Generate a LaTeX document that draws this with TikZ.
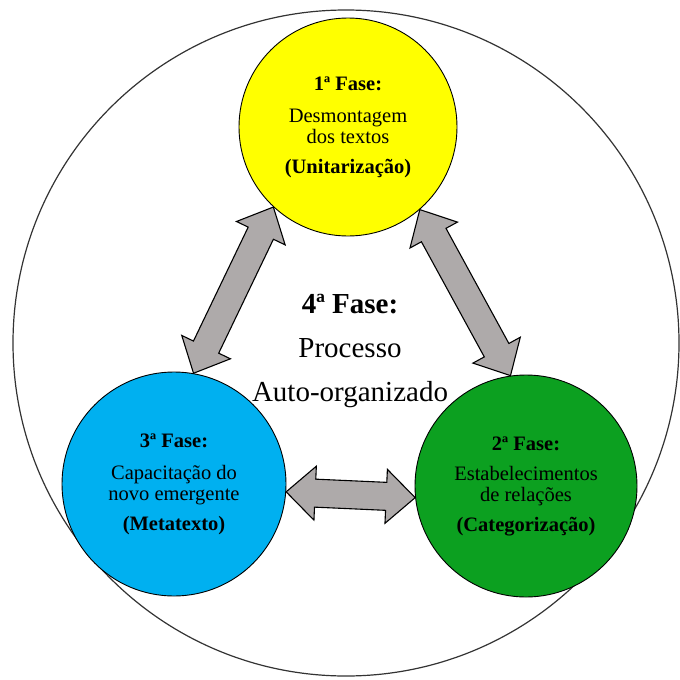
\documentclass[tikz,border=0pt]{standalone}
\usepackage{fontspec}
\setmainfont{Liberation Serif}
\usetikzlibrary{calc}
\definecolor{fyellow}{RGB}{255,255,0}
\definecolor{fblue}{RGB}{0,176,240}
\definecolor{fgreen}{RGB}{12,160,32}
\definecolor{arrowgray}{RGB}{174,170,170}
\newcommand\dblarrow[2]{%
  \draw[blockarrow] let \p1=($(#2)-(#1)$), \n1={atan2(\y1,\x1)}, \n2={veclen(\x1,\y1)} in
  [shift={(#1)}, rotate=\n1]
  (0,0) -- (29,27) -- (29,14) -- ({\n2-29},14) -- ({\n2-29},27) -- ({\n2},0)
  -- ({\n2-29},-27) -- ({\n2-29},-14) -- (29,-14) -- (29,-27) -- cycle;}
\begin{document}
\begin{tikzpicture}[x=1pt,y=-1pt,
  phase/.style={circle, draw=black, line width=0.9pt, inner sep=0pt, align=center,
    font=\fontsize{20.5}{21}\selectfont},
  blockarrow/.style={fill=arrowgray, draw=black, line width=1.1pt, line join=miter},
  outer/.style={circle, draw=black!80, line width=1.2pt, inner sep=0pt, minimum size=666pt}]
\useasboundingbox (0,0) rectangle (680,680);
\node[outer] (O) at (346,343) {};
\node[phase, fill=fyellow, minimum size=218pt] (Y) at (348,127)
  {\textbf{1ª Fase:}\\[11pt] Desmontagem\\ dos textos\\[9pt] \textbf{(Unitarização)}};
\node[phase, fill=fblue, minimum size=224pt] (B) at (174,484)
  {\textbf{3ª Fase:}\\[11pt] Capacitação do\\ novo emergente\\[9pt] \textbf{(Metatexto)}};
\node[phase, fill=fgreen, minimum size=222pt] (G) at (526,486)
  {\textbf{2ª Fase:}\\[9pt] Estabelecimentos\\ de relações\\[9pt] \textbf{(Categorização)}};
\node[align=center, inner sep=0pt, font=\fontsize{29}{44}\selectfont] (C) at (350,351)
  {\textbf{4ª Fase:}\\ Processo\\ Auto-organizado};
\coordinate (l1) at (Y.227.5);
\coordinate (l2) at (B.80.7);
\coordinate (r1) at (Y.311.8);
\coordinate (r2) at (G.98);
\coordinate (b1) at (B.-4.6);
\coordinate (b2) at (G.186.7);
\dblarrow{l1}{l2}
\dblarrow{r1}{r2}
\dblarrow{b1}{b2}
\end{tikzpicture}
\end{document}
